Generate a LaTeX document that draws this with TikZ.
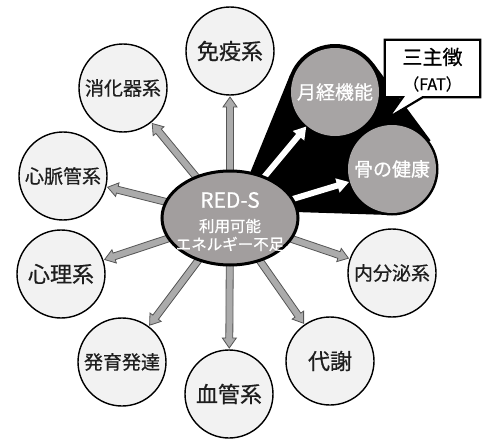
\documentclass[tikz,border=0pt]{standalone}
\usepackage{fontspec}
\setmainfont{Noto Sans CJK JP}[FakeBold=0.6]
\usetikzlibrary{calc,shapes.geometric}
\definecolor{cfill}{HTML}{F2F2F2}
\definecolor{efill}{HTML}{A29E9E}
\definecolor{gfill}{HTML}{A7A4A4}
\definecolor{afill}{HTML}{ABABAB}
\definecolor{aline}{HTML}{555555}
\definecolor{ctext}{HTML}{1E1E1E}
\pgfdeclarelayer{bg}
\pgfsetlayers{bg,main}
% #1 style, #2 start, #3 tip, #4 half shaft, #5 half head, #6 head length
\newcommand{\fatarrow}[6]{%
  \coordinate (#3-n) at ($(#3)!#6!(#2)$);
  \filldraw[#1] ($(#2)!#4!90:(#3)$) -- ($(#3-n)!#4!90:(#3)$) -- ($(#3-n)!#5!90:(#3)$) -- (#3)
    -- ($(#3-n)!#5!-90:(#3)$) -- ($(#3-n)!#4!-90:(#3)$) -- ($(#2)!#4!-90:(#3)$) -- cycle;}
\begin{document}
\begin{tikzpicture}[x=1pt,y=-1pt,
  sys/.style={circle,draw=black,line width=1.4pt,fill=cfill,minimum size=88pt,inner sep=0pt,text=ctext},
  tri/.style={circle,fill=gfill,minimum size=88pt,inner sep=0pt,text=white},
  fbig/.style={font=\fontsize{22}{22}\selectfont},
  fmid/.style={font=\fontsize{19}{19}\selectfont},
  fsm/.style={font=\fontsize{15.5}{15.5}\selectfont},
  grarr/.style={fill=afill,draw=aline,line width=0.8pt,line join=miter},
  warr/.style={fill=white,draw=none}]
\useasboundingbox (0,0) rectangle (491,439);

% outer system circles
\node[sys,fbig] (imm) at (230,51) {免疫系};
\node[sys,fmid] (dig) at (123,88) {消化器系};
\node[sys,fmid] (cv) at (63,176) {心脈管系};
\node[sys,fbig] (psy) at (61,274) {心理系};
\node[sys,fmid] (dev) at (122,362) {発育発達};
\node[sys,fbig] (vas) at (229,394) {血管系};
\node[sys,fbig] (met) at (330,361) {代謝};
\node[sys,fmid] (endo) at (392,273) {内分泌系};

% triad circles
\node[tri,fmid] (men) at (335,92) {月経機能};
\node[tri,fmid] (bone) at (392,169) {骨の健康};

% centre
\node[ellipse,draw=black,line width=3pt,fill=efill,minimum width=136pt,minimum height=94pt,inner sep=0pt] (ell) at (230,218) {};
\node[text=white,font=\fontsize{21}{21}\selectfont] (t1) at (230,200) {RED-S};
\node[text=white,fsm] (t2) at (230,226) {利用可能};
\node[text=white,fsm] (t3) at (230,244) {エネルギー不足};

% callout
\node[minimum width=95pt,minimum height=57pt,inner sep=0pt] (fat) at (432.5,68.5) {};
\node[font=\fontsize{20}{20}\selectfont,text=black] (fat1) at (432.5,57) {三主徴};
\node[font=\fontsize{16}{16}\selectfont,text=black] (fat2) at (432.5,84) {（FAT）};
\coordinate (ftip) at (388,118);

\begin{pgfonlayer}{bg}
  % black hull round the triad
  \fill[black] (248,178) -- (290,75) -- (335,92) -- (373.6,63.4) -- (430.6,140.4) -- (392,169) -- (389.5,215) -- (295,212) -- cycle;
  \fill[black] (men.center) circle (48pt);
  \fill[black] (bone.center) circle (46.5pt);
  % grey arrows
  \foreach \t in {imm,dig,cv,psy,dev,vas,met,endo}{
    \coordinate (a-\t) at ($(\t)!46pt!(ell.center)$);
    \fatarrow{grarr}{ell.center}{a-\t}{3.5pt}{7pt}{10pt}
  }
  % white arrows
  \coordinate (w-men) at ($(men)!45pt!(ell.center)$);
  \fatarrow{warr}{ell.center}{w-men}{3pt}{7.5pt}{12pt}
  \coordinate (w-bone) at ($(bone)!45pt!(ell.center)$);
  \fatarrow{warr}{ell.center}{w-bone}{3pt}{7.5pt}{12pt}
  % callout box with tail
  \filldraw[fill=white,draw=black,line width=2.2pt,line join=miter,miter limit=3]
    (fat.north west) -- (fat.north east) -- (fat.south east) -- ([xshift=38pt]fat.south west)
    -- (ftip) -- ([xshift=18pt]fat.south west) -- (fat.south west) -- cycle;
\end{pgfonlayer}
\end{tikzpicture}
\end{document}
